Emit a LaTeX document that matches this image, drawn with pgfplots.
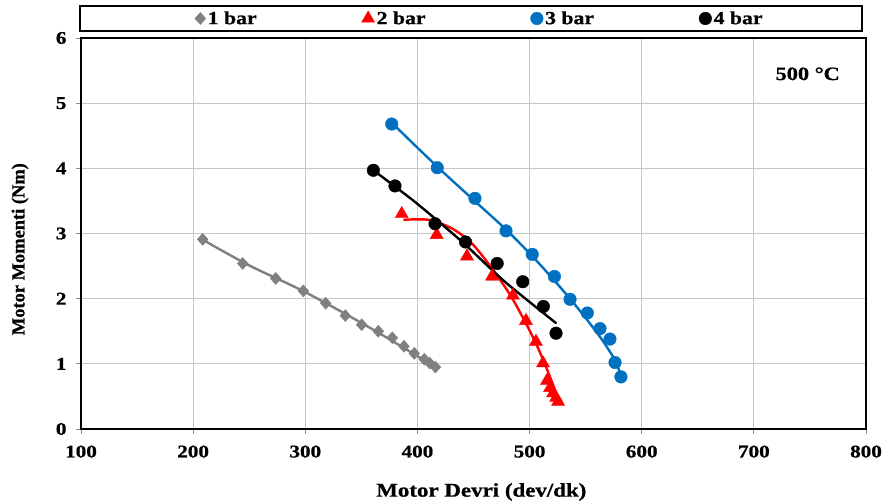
\documentclass[border=0pt]{standalone}
\usepackage{fontspec}
\setmainfont{Liberation Serif}[FakeStretch=1.18, BoldFeatures={FakeBold=0.8}]
\newfontfamily\yfont{Liberation Serif}[BoldFeatures={FakeBold=0.8}]
\usepackage{pgfplots}
\pgfplotsset{compat=1.18}
\definecolor{cgray}{RGB}{128,128,128}
\definecolor{cblue}{RGB}{0,112,192}
\definecolor{cred}{RGB}{255,0,0}
\begin{document}
\begin{tikzpicture}
\useasboundingbox (-81bp,-75bp) rectangle (803bp,429bp);
\begin{axis}[
  scale only axis, width=785bp, height=391bp,
  xmin=100, xmax=800, ymin=0, ymax=6,
  xtick={100,200,...,800}, ytick={0,1,...,6},
  grid=major, major grid style={draw=black!22, line width=0.8bp},
  axis line style={line width=2.2bp, black},
  tick align=outside, xtick pos=left, ytick pos=left, major tick length=5bp,
  tick style={black!45, line width=0.8bp},
  /pgf/number format/assume math mode=true,
  ticklabel style={font=\fontsize{18}{20}\selectfont\bfseries},
  xticklabel style={yshift=-8bp},
  yticklabel style={xshift=-6bp},
  xlabel={Motor Devri (dev/dk)},
  ylabel={Motor Momenti (Nm)},
  xlabel style={font=\fontsize{19.5}{22}\selectfont\bfseries, at={(axis description cs:0.51,-0.161)}, anchor=center},
  ylabel style={font=\fontsize{18.5}{20}\yfont\bfseries, at={(axis description cs:-0.0777,0.46)}, anchor=center, rotate=0},
  legend columns=4,
  legend style={at={(axis description cs:0.508,1.0499)}, anchor=center, draw=none, fill=none,
    inner sep=0pt, font=\fontsize{18.5}{20}\selectfont\bfseries,
    /tikz/every even column/.append style={column sep=103bp}},
  legend image code/.code={\draw[mark repeat=2,mark phase=2,line width=0.4bp,#1] plot coordinates {(0bp,0bp)(4bp,0bp)(8bp,0bp)};},
  clip=false,
]
% trendlines
\addplot[cgray, line width=2.4bp, smooth, forget plot] coordinates {
(208,2.91) (250,2.51) (300,2.10) (360,1.53) (418,0.93)};
\addplot[cred, line width=2.4bp, smooth, forget plot] coordinates {
(387.4,3.21) (409.7,3.21) (430.5,3.08) (448.4,2.85) (466.2,2.47) (482.6,2.06) (495.9,1.65) (506.3,1.29) (515.2,0.93) (525.6,0.47)};
\addplot[cblue, line width=2.4bp, smooth, forget plot] coordinates {
(377,4.70) (418,4.02) (451,3.50) (479,3.06) (502,2.66) (522,2.28) (537,1.98) (552,1.66) (565,1.36) (576,1.06) (582,0.80)};
\addplot[black, line width=2.4bp, smooth, forget plot] coordinates {
(360,3.98) (380,3.72) (401,3.44) (440,2.87) (478,2.26) (524,1.62)};
% data
\addplot[only marks, mark=diamond*, mark size=6bp, color=cgray, mark options={fill=cgray, draw=cgray, xscale=1.2}] coordinates {
(208.5,2.91) (244.2,2.54) (273.6,2.31) (298.2,2.12) (318.2,1.93) (335.7,1.74) (350.3,1.60) (365.1,1.50) (377.6,1.40) (388.0,1.27) (397.2,1.16) (406.1,1.07) (411,1.01) (416,0.95)};
\addlegendentry{1 bar}
\addplot[only marks, mark=triangle*, mark size=7.5bp, color=cred, mark options={fill=cred, draw=cred}] coordinates {
(386.0,3.30) (417.2,2.98) (444.2,2.65) (466.5,2.34) (485.2,2.05) (496.8,1.66) (505.7,1.34) (512.0,1.01) (515.5,0.74) (518.2,0.63) (520.9,0.55) (523.6,0.48) (525.4,0.42)};
\addlegendentry{2 bar}
\addplot[only marks, mark=*, mark size=6.3bp, color=cblue, mark options={fill=cblue, draw=cblue}] coordinates {
(377.1,4.68) (417.7,4.01) (451.3,3.54) (479.0,3.04) (502.4,2.68) (522.2,2.34) (536.1,1.99) (551.5,1.78) (562.8,1.54) (571.7,1.38) (576.2,1.02) (581.5,0.80)};
\addlegendentry{3 bar}
\addplot[only marks, mark=*, mark size=6.3bp, color=black, mark options={fill=black, draw=black}] coordinates {
(360.7,3.97) (380.0,3.73) (415.7,3.15) (442.9,2.87) (471.1,2.54) (493.9,2.26) (512.3,1.88) (523.6,1.47)};
\addlegendentry{4 bar}
\node[font=\fontsize{19}{21}\selectfont\bfseries] at (axis cs:748,5.45) {500 °C};
\draw[line width=2bp, black] (axis description cs:-0.0013,1.0179) rectangle (axis description cs:0.9949,1.0818);
\end{axis}
\end{tikzpicture}
\end{document}
